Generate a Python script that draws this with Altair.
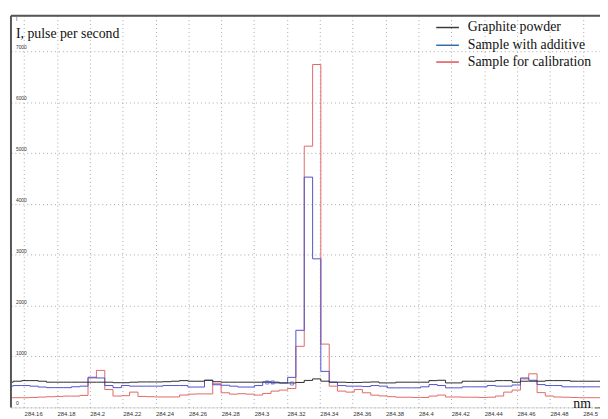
import altair as alt
import pandas as pd

# ---- data ----
wavelength = [
    284.1483, 284.1534, 284.1585, 284.1635, 284.1686, 284.1736, 284.1787, 284.1838,
    284.1888, 284.1939, 284.1989, 284.2040, 284.2091, 284.2141, 284.2192, 284.2242,
    284.2293, 284.2344, 284.2394, 284.2445, 284.2495, 284.2546, 284.2597, 284.2647,
    284.2698, 284.2748, 284.2799, 284.2850, 284.2900, 284.2951, 284.3001, 284.3052,
    284.3103, 284.3153, 284.3204, 284.3254, 284.3305, 284.3356, 284.3406, 284.3457,
    284.3507, 284.3558, 284.3609, 284.3659, 284.3710, 284.3760, 284.3811, 284.3862,
    284.3912, 284.3963, 284.4013, 284.4064, 284.4115, 284.4165, 284.4216, 284.4266,
    284.4317, 284.4368, 284.4418, 284.4469, 284.4519, 284.4570, 284.4621, 284.4671,
    284.4722, 284.4772, 284.4823, 284.4874, 284.4924, 284.4975, 284.5025, 284.5076,
]
step_end = 284.5127

graphite = [
    495, 514, 526, 526, 514, 495, 495, 495, 495, 495,
    495, 495, 495, 485, 485, 495, 500, 500, 500, 505,
    514, 526, 514, 514, 535, 505, 495, 495, 495, 495,
    495, 500, 495, 480, 480, 490, 530, 560, 515, 495,
    495, 490, 490, 495, 500, 481, 481, 495, 495, 495,
    495, 526, 533, 481, 481, 514, 514, 514, 514, 526,
    526, 495, 514, 514, 514, 526, 526, 526, 514, 514,
    514, 514,
]
additive = [
    417, 429, 429, 417, 400, 388, 388, 388, 405, 417,
    592, 578, 429, 388, 429, 417, 417, 417, 417, 429,
    429, 429, 400, 400, 530, 445, 435, 417, 400, 400,
    429, 495, 480, 480, 590, 1515, 4526, 2920, 708, 495,
    429, 417, 417, 410, 429, 417, 384, 384, 384, 384,
    404, 448, 429, 384, 384, 404, 404, 404, 429, 417,
    417, 440, 578, 533, 448, 429, 429, 404, 404, 404,
    404, 404,
]
calibration = [
    190, 190, 190, 196, 203, 209, 216, 222, 222, 235,
    578, 727, 351, 223, 230, 300, 215, 210, 205, 205,
    205, 243, 260, 265, 265, 465, 287, 260, 268, 260,
    242, 274, 320, 340, 370, 1200, 5135, 6740, 1244, 417,
    320, 300, 350, 287, 240, 225, 210, 200, 200, 195,
    195, 223, 242, 204, 204, 200, 200, 195, 200, 223,
    300, 340, 560, 660, 290, 223, 204, 200, 195, 190,
    190, 190,
]

series_names = ["Graphite powder", "Sample with additive", "Sample for calibration"]
line_colors = ["#2b2b2b", "#5050cc", "#e06868"]
legend_colors = ["#3a3a3a", "#2e6ea6", "#e0505a"]

x_ticks = [284.16, 284.18, 284.2, 284.22, 284.24, 284.26, 284.28, 284.3, 284.32,
           284.34, 284.36, 284.38, 284.4, 284.42, 284.44, 284.46, 284.48, 284.5]
y_ticks = [0, 1000, 2000, 3000, 4000, 5000, 6000, 7000]

cursor_x = [284.3080, 284.3113, 284.3230]
cursor_y = [490, 490, 470]

# ---- layout ----
W, H = 597, 397
X_DOMAIN = [284.152, 284.5105]
Y_DOMAIN = [0, 7700]

xs = alt.Scale(domain=X_DOMAIN, nice=False, zero=False)
ys = alt.Scale(domain=Y_DOMAIN, nice=False, zero=True)


def series_df(vals):
    return pd.DataFrame({"wavelength": wavelength + [step_end],
                         "intensity": vals + [vals[-1]]})


x_axis = alt.Axis(values=x_ticks, format=".2~f", grid=True, gridDash=[1, 3],
                  gridColor="#a8a8a8", gridWidth=1, ticks=False, domain=False,
                  labelAlign="left", labelBaseline="top", labelFontSize=6,
                  labelPadding=3, labelColor="#333", labelFont="Liberation Sans",
                  labelFlush=False, labelOverlap=False, title=None)
y_axis = alt.Axis(values=y_ticks, grid=True, gridDash=[1, 3], gridColor="#a8a8a8",
                  gridWidth=1, labels=False, ticks=False, domain=False, title=None)

layers = []
order = [2, 1, 0]  # red, blue, black on top
for idx in order:
    vals = [graphite, additive, calibration][idx]
    layers.append(
        alt.Chart(series_df(vals)).mark_line(
            interpolate="step-after", strokeWidth=1, clip=True,
            color=line_colors[idx]
        ).encode(
            x=alt.X("wavelength:Q", scale=xs, axis=x_axis),
            y=alt.Y("intensity:Q", scale=ys, axis=y_axis),
        )
    )

cursor = alt.Chart(pd.DataFrame({"wavelength": cursor_x, "intensity": cursor_y})).mark_point(
    shape="square", size=10, filled=False, color=line_colors[1], strokeWidth=1
).encode(x=alt.X("wavelength:Q", scale=xs, axis=x_axis),
         y=alt.Y("intensity:Q", scale=ys, axis=y_axis))
layers.append(cursor)

# y tick labels inside the plot
ylab = alt.Chart(pd.DataFrame({"intensity": y_ticks})).mark_text(
    align="left", baseline="bottom", fontSize=5, color="#333",
    font="Liberation Sans", dy=-1
).encode(x=alt.value(5), y=alt.Y("intensity:Q", scale=ys, axis=y_axis),
         text="intensity:Q")
layers.append(ylab)

one = alt.Data(values=[{"a": 1}])

# frame (left + top)
layers.append(alt.Chart(one).mark_rule(color="#555", strokeWidth=2).encode(
    x=alt.value(0), y=alt.value(0), y2=alt.value(H)))
layers.append(alt.Chart(one).mark_rule(color="#555", strokeWidth=2).encode(
    x=alt.value(0), x2=alt.value(W), y=alt.value(0)))

# titles
layers.append(alt.Chart(one).mark_text(
    text="I", align="left", baseline="middle", fontSize=5, color="#333",
    font="Liberation Sans").encode(x=alt.value(5), y=alt.value(3)))
layers.append(alt.Chart(one).mark_text(
    text="I, pulse per second", align="left", baseline="alphabetic", fontSize=14,
    color="#111", font="Liberation Serif").encode(x=alt.value(5), y=alt.value(23)))
layers.append(alt.Chart(one).mark_text(
    text="nm", align="left", baseline="alphabetic", fontSize=14,
    color="#111", font="Liberation Serif").encode(x=alt.value(570), y=alt.value(H + 1)))
layers.append(alt.Chart(one).mark_text(
    text="nm", align="left", baseline="middle", fontSize=4,
    color="#333", font="Liberation Sans").encode(x=alt.value(592), y=alt.value(H + 1)))

# legend
legend_y = [12, 30, 47]
for name, col, ly in zip(series_names, legend_colors, legend_y):
    layers.append(alt.Chart(one).mark_rule(color=col, strokeWidth=1.5).encode(
        x=alt.value(431), x2=alt.value(454), y=alt.value(ly)))
    layers.append(alt.Chart(one).mark_text(
        text=name, align="left", baseline="middle", fontSize=14, color="#111",
        font="Liberation Serif").encode(x=alt.value(463), y=alt.value(ly)))

chart = alt.layer(*layers).properties(
    width=W, height=H,
    autosize=alt.AutoSizeParams(type="none"),
    padding={"left": 3, "top": 5, "right": 0, "bottom": 9},
).configure_view(stroke=None).configure(background="white")

chart.save("out.html", embed_options={"renderer": "svg", "actions": False})
